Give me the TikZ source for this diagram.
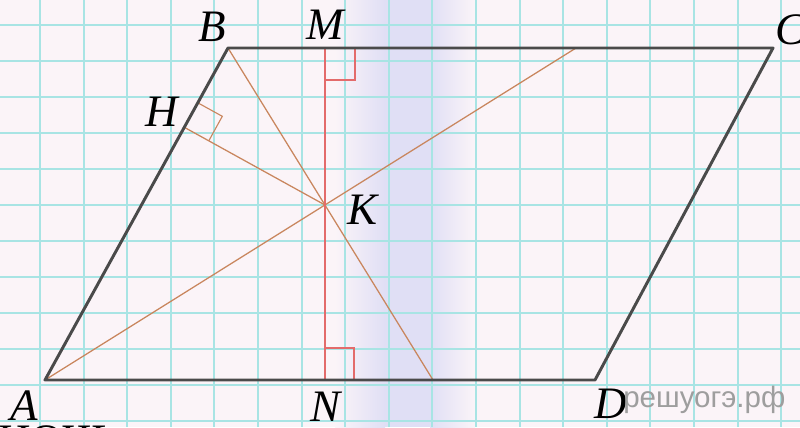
\documentclass[tikz,border=0pt]{standalone}
\usepackage{fontspec}
\setmainfont{Liberation Serif}
\newfontfamily\markfont{Liberation Sans}
\begin{document}
\begin{tikzpicture}[x=0.025cm, y=-0.025cm]
    \definecolor{paperColour}{HTML}{FBF4F8}
    \definecolor{gridColour}{HTML}{A8E4E4}
    \definecolor{bandColour}{HTML}{E0DFF5}
    \definecolor{borderColour}{HTML}{4A4A4A}
    \definecolor{cevianColour}{HTML}{C9865E}
    \definecolor{heightColour}{HTML}{E36B6B}

    \tikzset{
        ptlabel/.style={inner sep=0pt, font=\fontsize{32}{32}\selectfont\itshape},
        cevian/.style={cevianColour, line width=0.9pt},
        heightline/.style={heightColour, line width=1.3pt}
    }

    \useasboundingbox (0,0) rectangle (800,427);
    \clip (0,0) rectangle (800,427);

    % Paper
    \fill[paperColour] (0,0) rectangle (800,427);
    \shade[left color=paperColour, right color=bandColour] (335,0) rectangle (385,427);
    \fill[bandColour] (384,0) rectangle (431,427);
    \shade[left color=bandColour, right color=paperColour] (430,0) rectangle (475,427);

    % Grid
    \foreach \k in {0,...,17}
        \draw[gridColour, line width=1.3pt] ({40+43.6*\k},0) -- ({40+43.6*\k},427);
    \foreach \k in {0,...,11}
        \draw[gridColour, line width=1.3pt] (0,{25+36*\k}) -- (800,{25+36*\k});

    % Points
    \coordinate (A) at (45,380);
    \coordinate (B) at (228,48);
    \coordinate (C) at (773,48);
    \coordinate (D) at (595,380);
    \coordinate (M) at (325,48);
    \coordinate (N) at (325,380);
    \coordinate (K) at (325,205);
    \coordinate (H) at (184.3,127.3);
    \coordinate (P) at (576,48);
    \coordinate (Q) at (433,380);

    % Lines through K
    \draw[cevian] (A) -- (P);
    \draw[cevian] (B) -- (Q);
    \draw[cevian] (H) -- (K);
    \draw[heightline] (M) -- (N);

    % Right angles
    \draw[heightColour, line width=0.8pt] (325,80) -- (355,80) -- (355,48);
    \draw[heightColour, line width=0.8pt] (325,348) -- (354,348) -- (354,380);
    \draw[cevianColour, line width=0.8pt] (197.8,102.8) -- (222.3,116.3) -- (208.8,140.8);

    % Parallelogram ABCD
    \draw[borderColour, line width=2.1pt, line join=round] (A) -- (B) -- (C) -- (D) -- cycle;

    % Labels
    \node[ptlabel] (labA) at (24,406) {A};
    \node[ptlabel] (labB) at (212,27) {B};
    \node[ptlabel] (labC) at (790,30) {C};
    \node[ptlabel] (labD) at (611,404) {D};
    \node[ptlabel] (labM) at (325,25) {M};
    \node[ptlabel] (labN) at (326,407) {N};
    \node[ptlabel] (labH) at (162,112) {H};
    \node[ptlabel] (labK) at (363,210) {K};

    % Watermark and cut text
    \node[anchor=base west, inner sep=0pt, text=black!38] (mark) at (623,407)
        {\markfont\fontsize{21}{21}\selectfont решуогэ.рф};
    \node[anchor=base west, inner sep=0pt] (cut) at (-2,455)
        {\fontsize{32}{32}\selectfont НОЧЬ};
\end{tikzpicture}
\end{document}
